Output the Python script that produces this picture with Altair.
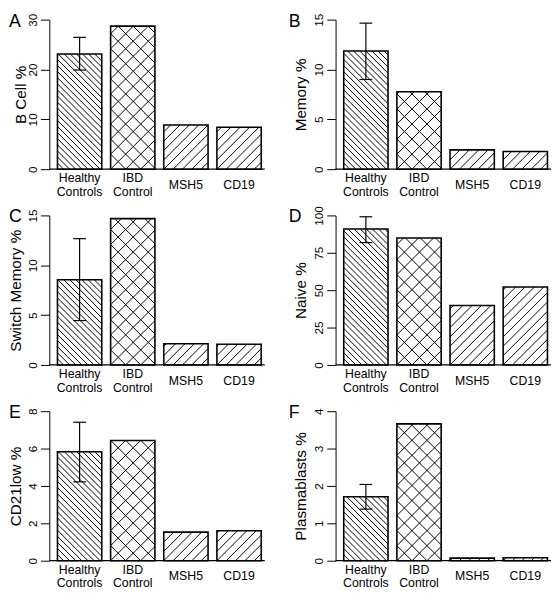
import altair as alt
import numpy as np
import pandas as pd

# ---------------- data ----------------
GROUPS = ["Healthy\nControls", "IBD\nControl", "MSH5", "CD19"]
HATCH = ["back", "cross", "fwd", "fwd"]

LETTERS = ["A", "B", "C", "D", "E", "F"]
TITLES = ["B Cell %", "Memory %", "Switch Memory %", "Naive %", "CD21low %", "Plasmablasts %"]
YMAX = [30, 15, 15, 100, 8, 4]
TICKS = [[0, 10, 20, 30], [0, 5, 10, 15], [0, 5, 10, 15],
         [0, 25, 50, 75, 100], [0, 2, 4, 6, 8], [0, 1, 2, 3, 4]]

B_CELL = [23.1, 28.7, 8.85, 8.4]
MEMORY = [11.85, 7.77, 1.94, 1.78]
SWITCH_MEMORY = [8.55, 14.68, 2.13, 2.07]
NAIVE = [90.9, 84.9, 39.8, 52.1]
CD21LOW = [5.83, 6.43, 1.53, 1.60]
PLASMABLASTS = [1.71, 3.66, 0.07, 0.08]
VALUES = [B_CELL, MEMORY, SWITCH_MEMORY, NAIVE, CD21LOW, PLASMABLASTS]

# error bar on Healthy Controls
HC_LOW = [19.9, 9.0, 4.45, 81.8, 4.22, 1.38]
HC_HIGH = [26.45, 14.65, 12.67, 99.1, 7.41, 2.04]

# ---------------- layout / style ----------------
W, H = 219, 152
XMIN, XMAX = 0.016, 4.88
BAR_W, SPACE = 1.0, 0.2
FONT = "Liberation Sans"
HATCH_STEP = {"back": 6.2, "cross": 15.3, "fwd": 9.5}
TITLE_X = [-29, -35.5, -34.5, -35.5, -34.5, -35.5]
LETTER_X = [-41, -47.5, -41, -47.5, -41, -47.5]


def hatch_lines(x0, x1, top, kx, ky, kind, step):
    """45-degree (in pixel space) hatch segments clipped to a bar."""
    w = (x1 - x0) * kx
    t = top * ky
    segs = []
    if kind == "fwd":  # Y = u + c
        kmin = int(np.ceil(-w / step))
        kmax = int(np.floor(t / step))
        for k in range(kmin, kmax + 1):
            c = k * step
            lo, hi = max(0.0, -c), min(w, t - c)
            if hi - lo > 0.2:
                segs.append((lo, lo + c, hi, hi + c))
    else:  # Y = -u + c
        kmax = int(np.floor((w + t) / step))
        for k in range(0, kmax + 1):
            c = k * step
            lo, hi = max(0.0, c - t), min(w, c)
            if hi - lo > 0.2:
                segs.append((lo, c - lo, hi, c - hi))
    return [{"x": x0 + a / kx, "y": b / ky, "x2": x0 + cc / kx, "y2": d / ky}
            for a, b, cc, d in segs]


def panel(i):
    vals = VALUES[i]
    ymax = YMAX[i]
    kx = W / (XMAX - XMIN)
    ky = H / ymax
    x0 = [SPACE + j * (BAR_W + SPACE) for j in range(4)]
    x1 = [a + BAR_W for a in x0]
    xc = [a + BAR_W / 2 for a in x0]
    bars = pd.DataFrame({"group": GROUPS, "x0": x0, "x1": x1, "xc": xc,
                         "v": vals, "base": [0.0] * 4})
    two_line = bars[bars["group"].str.contains("\n")]
    one_line = bars[~bars["group"].str.contains("\n")]
    segs = []
    for j in range(4):
        kinds = ["fwd", "back"] if HATCH[j] == "cross" else [HATCH[j]]
        for k in kinds:
            segs += hatch_lines(x0[j], x1[j], vals[j], kx, ky, k, HATCH_STEP[HATCH[j]])
    segdf = pd.DataFrame(segs)

    xs = alt.Scale(domain=[XMIN, XMAX], nice=False, zero=False)
    ys = alt.Scale(domain=[0, ymax], nice=False, zero=False)
    yaxis = alt.Axis(values=TICKS[i], title=TITLES[i], titleX=TITLE_X[i], titleY=H / 2,
                     titleAngle=270, titleAlign="center", titleBaseline="middle",
                     labelAngle=270, labelAlign="center", labelBaseline="middle",
                     labelPadding=8.5, tickSize=9, grid=False, labelFlush=False,
                     labelOverlap=False)

    hatch = alt.Chart(segdf).mark_rule(color="black", strokeWidth=1.0).encode(
        x=alt.X("x:Q", scale=xs, axis=None), x2="x2:Q",
        y=alt.Y("y:Q", scale=ys, axis=yaxis), y2="y2:Q")
    outline = alt.Chart(bars).mark_rect(fillOpacity=0, stroke="black", strokeWidth=1.6).encode(
        x=alt.X("x0:Q", scale=xs, axis=None), x2="x1:Q",
        y=alt.Y("v:Q", scale=ys, axis=yaxis), y2="base:Q")
    base = alt.Chart(pd.DataFrame({"z": [0.0]})).mark_rule(color="black", strokeWidth=1.3).encode(
        y=alt.Y("z:Q", scale=ys, axis=yaxis), x=alt.value(0), x2=alt.value(W))
    err = pd.DataFrame({"xc": [xc[0]], "lo": [HC_LOW[i]], "hi": [HC_HIGH[i]]})
    err_rule = alt.Chart(err).mark_rule(color="black", strokeWidth=1.2).encode(
        x=alt.X("xc:Q", scale=xs, axis=None),
        y=alt.Y("lo:Q", scale=ys, axis=yaxis), y2="hi:Q")
    caps_df = pd.DataFrame({"xc": [xc[0], xc[0]], "yv": [HC_LOW[i], HC_HIGH[i]]})
    caps = alt.Chart(caps_df).mark_tick(orient="horizontal", size=13, thickness=1.2,
                                        color="black", opacity=1).encode(
        x=alt.X("xc:Q", scale=xs, axis=None),
        y=alt.Y("yv:Q", scale=ys, axis=yaxis))
    text_style = dict(font=FONT, fontSize=12.5, lineBreak="\n", lineHeight=14,
                      baseline="middle", align="center", color="black")
    labels2 = alt.Chart(two_line).mark_text(**text_style).encode(
        x=alt.X("xc:Q", scale=xs, axis=None), y=alt.value(H + 9), text="group:N")
    labels1 = alt.Chart(one_line).mark_text(**text_style).encode(
        x=alt.X("xc:Q", scale=xs, axis=None), y=alt.value(H + 16), text="group:N")
    letter = alt.Chart(pd.DataFrame({"t": [LETTERS[i]]})).mark_text(
        font=FONT, fontSize=18, align="left", baseline="middle", color="black").encode(
        x=alt.value(LETTER_X[i]), y=alt.value(2), text="t:N")

    return alt.layer(hatch, outline, base, err_rule, caps, labels2, labels1, letter).properties(
        width=W, height=H)


chart = alt.concat(*[panel(i) for i in range(6)], columns=2,
                   spacing={"row": 47, "column": 72}, bounds="flush", padding=0
).configure_view(
    strokeWidth=0
).configure_axis(
    domainColor="black", tickColor="black", labelColor="black", titleColor="black",
    labelFont=FONT, titleFont=FONT, labelFontSize=12, titleFontSize=15.5,
    titleFontWeight="normal", domainWidth=1, tickWidth=1
)

chart.save("out.html", embed_options={"renderer": "svg", "actions": False})
